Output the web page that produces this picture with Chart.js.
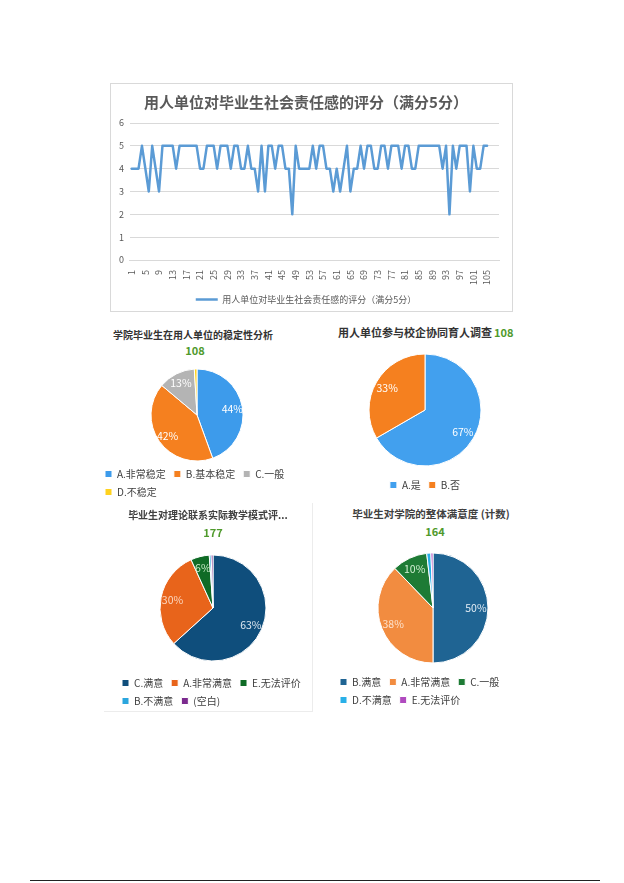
<!DOCTYPE html>
<html>
<head>
<meta charset="utf-8">
<title>毕业生调查图表</title>
<style>
  body { margin: 0; background: #fff; font-family: "Noto Sans CJK SC", "Noto Sans", sans-serif; }
  .page { position: relative; width: 624px; height: 883px; overflow: hidden; }
  canvas { position: absolute; }
  .frame { position: absolute; left: 110px; top: 83px; width: 401px; height: 227px; border: 1px solid #d9d9d9; }
  .frame3 { position: absolute; left: 104px; top: 503px; width: 208px; height: 208px; border: 1px solid #ececec; border-top: none; border-left: none; }
  .t { position: absolute; font-weight: bold; color: #333; white-space: nowrap; line-height: 1; }
  .n { position: absolute; font-weight: bold; color: #4f9a2c; font-size: 11px; line-height: 1; }
  .c { transform: translateX(-50%); }
  .rule { position: absolute; left: 30px; width: 570px; top: 880px; height: 1px; background: #222; }
</style>
</head>
<body>
<div class="page">
  <div class="frame"></div>
  <canvas id="line" width="401" height="230" style="left:111px;top:84px"></canvas>

  <div class="t c" style="left:193px;top:330px;font-size:10px">学院毕业生在用人单位的稳定性分析</div>
  <div class="n c" style="left:195px;top:345px">108</div>
  <canvas id="pie1" width="200" height="138" style="left:97px;top:369px"></canvas>

  <div class="t" style="left:338px;top:327px;font-size:11px">用人单位参与校企协同育人调查</div>
  <div class="n" style="left:494px;top:327px">108</div>
  <canvas id="pie2" width="200" height="152" style="left:325px;top:348px"></canvas>

  <div class="frame3"></div>
  <div class="t c" style="left:208px;top:510px;font-size:10px;color:#404040">毕业生对理论联系实际教学模式评...</div>
  <div class="n c" style="left:213px;top:527px">177</div>
  <canvas id="pie3" width="198" height="170" style="left:114px;top:546px"></canvas>

  <div class="t c" style="left:431px;top:509px;font-size:10.5px;color:#404040">毕业生对学院的整体满意度 (计数)</div>
  <div class="n c" style="left:435px;top:526px">164</div>
  <canvas id="pie4" width="202" height="168" style="left:332px;top:547px"></canvas>

  <div class="rule"></div>
</div>

<script src="https://cdn.jsdelivr.net/npm/chart.js@4.4.1/dist/chart.umd.min.js"></script>
<script>
// line chart: score per respondent (1..108, last three empty)
var respondentLabels = [1,2,3,4,5,6,7,8,9,10,11,12,13,14,15,16,17,18,19,20,
  21,22,23,24,25,26,27,28,29,30,31,32,33,34,35,36,37,38,39,40,
  41,42,43,44,45,46,47,48,49,50,51,52,53,54,55,56,57,58,59,60,
  61,62,63,64,65,66,67,68,69,70,71,72,73,74,75,76,77,78,79,80,
  81,82,83,84,85,86,87,88,89,90,91,92,93,94,95,96,97,98,99,100,
  101,102,103,104,105,106,107,108];
var scores = [4,4,4,5,4,3,5,4,3,5,
  5,5,5,4,5,5,5,5,5,5,
  4,4,5,5,5,4,5,5,5,4,
  5,5,4,4,5,4,4,3,5,3,
  5,5,4,5,5,4,4,2,5,4,
  4,4,4,5,4,5,5,4,4,3,
  4,3,4,5,3,4,4,5,4,5,
  5,4,4,5,5,4,5,5,5,4,
  5,5,4,4,5,5,5,5,5,5,
  5,4,5,2,5,4,5,5,5,3,
  5,4,4,5,5,null,null,null];

// pie 1: stability
var stabLabels = ['A.非常稳定', 'B.基本稳定', 'C.一般', 'D.不稳定'];
var stabCounts = [48, 45, 14, 1];
// pie 2: participation
var coopLabels = ['A.是', 'B.否'];
var coopCounts = [72, 36];
// pie 3: teaching mode
var teachLabels = ['C.满意', 'A.非常满意', 'E.无法评价', 'B.不满意', '(空白)'];
var teachCounts = [112, 53, 10, 1, 1];
// pie 4: overall satisfaction
var satLabels = ['B.满意', 'A.非常满意', 'C.一般', 'D.不满意', 'E.无法评价'];
var satCounts = [82, 62, 17, 2, 1];

Chart.defaults.font.family = '"Noto Sans CJK SC", "Noto Sans", sans-serif';
Chart.defaults.animation = false;

// percentage text inside each slice
var pctLabels = {
  id: 'pctLabels',
  afterDatasetsDraw: function(chart, args, opts) {
    var ds = chart.data.datasets[0];
    var meta = chart.getDatasetMeta(0);
    var total = ds.data.reduce(function(a, b) { return a + b; }, 0);
    var ctx = chart.ctx;
    ctx.save();
    ctx.font = '10.5px "Noto Sans CJK SC", sans-serif';
    ctx.textAlign = 'center';
    ctx.textBaseline = 'middle';
    meta.data.forEach(function(arc, i) {
      var pct = Math.round(ds.data[i] / total * 100);
      if (pct < 3) return;
      var p = arc.getProps(['x', 'y', 'startAngle', 'endAngle', 'outerRadius']);
      var mid = (p.startAngle + p.endAngle) / 2;
      var r = p.outerRadius * opts.pos;
      ctx.fillStyle = (opts.colors && opts.colors[i]) || '#fff';
      ctx.fillText(pct + '%', p.x + Math.cos(mid) * r, p.y + Math.sin(mid) * r);
    });
    ctx.restore();
  }
};

function pie(id, labels, counts, colors, radius, align, textColors) {
  return new Chart(document.getElementById(id), {
    type: 'pie',
    data: {
      labels: labels,
      datasets: [{ data: counts, backgroundColor: colors, borderColor: '#fff', borderWidth: 1 }]
    },
    plugins: [pctLabels],
    options: {
      responsive: false,
      radius: radius,
      layout: { padding: 0 },
      plugins: {
        legend: {
          position: 'bottom',
          align: align,
          labels: { boxWidth: 7, boxHeight: 7, padding: 8, color: '#404040', font: { size: 10 } }
        },
        tooltip: { enabled: false },
        pctLabels: { pos: 0.78, colors: textColors }
      }
    }
  });
}

new Chart(document.getElementById('line'), {
  type: 'line',
  data: {
    labels: respondentLabels,
    datasets: [{
      label: '用人单位对毕业生社会责任感的评分（满分5分）',
      data: scores,
      borderColor: '#5b9bd5',
      backgroundColor: '#5b9bd5',
      borderWidth: 2.5,
      borderJoinStyle: 'round',
      borderCapStyle: 'round',
      pointRadius: 0,
      tension: 0,
      fill: false
    }]
  },
  options: {
    responsive: false,
    layout: { padding: { left: 2, right: 13, bottom: 0 } },
    scales: {
      x: {
        offset: true,
        grid: { display: false },
        border: { color: '#d9d9d9' },
        ticks: {
          autoSkip: false, minRotation: 90, maxRotation: 90, padding: 2,
          color: '#595959', font: { size: 9 },
          callback: function(v, i) { return i % 4 === 0 ? this.getLabelForValue(v) : ''; }
        }
      },
      y: {
        min: 0, max: 6,
        ticks: { stepSize: 1, padding: 6, color: '#595959', font: { size: 9 } },
        grid: { color: '#d9d9d9', drawTicks: false },
        border: { display: false }
      }
    },
    plugins: {
      title: {
        display: true,
        text: '用人单位对毕业生社会责任感的评分（满分5分）',
        color: '#595959',
        font: { size: 15, weight: 'bold' },
        padding: { top: 9, bottom: 12 }
      },
      legend: {
        position: 'bottom',
        labels: { usePointStyle: true, pointStyle: 'line', pointStyleWidth: 22, padding: 8, color: '#595959', font: { size: 9 } }
      },
      tooltip: { enabled: false }
    }
  }
});

pie('pie1', stabLabels, stabCounts, ['#3d9beb', '#f5801f', '#b4b4b4', '#ffd21f'], 46, 'start');
pie('pie2', coopLabels, coopCounts, ['#42a0ee', '#f5801f'], 56, 'center');
pie('pie3', teachLabels, teachCounts, ['#0f4e7c', '#e8641b', '#0f6b26', '#2ba6de', '#7b2a8e'], 53, 'start',
    ['#dfe9f2', '#fbd7c0', '#c9ecc9']);
pie('pie4', satLabels, satCounts, ['#1f6493', '#f28c40', '#1e7b35', '#29b0e8', '#b04abf'], 55, 'start',
    ['#e3edf5', '#fde2cd', '#d3f0d3']);
</script>
</body>
</html>
